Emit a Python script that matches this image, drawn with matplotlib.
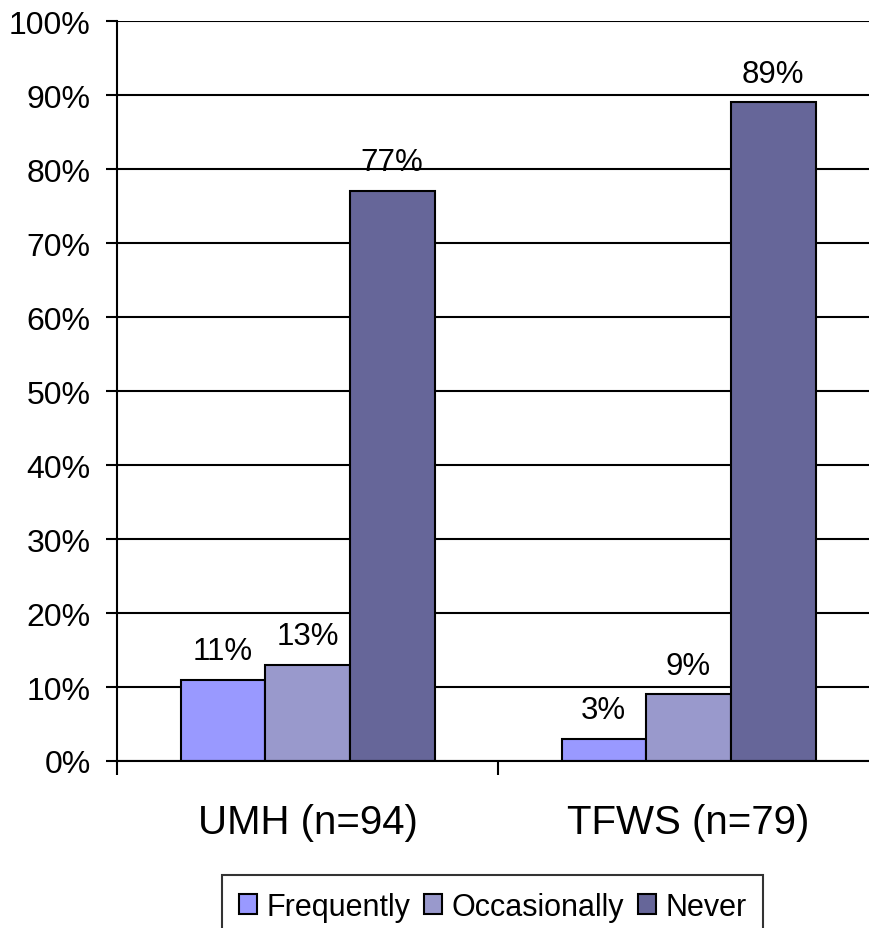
import numpy as np
import matplotlib.pyplot as plt

plt.rcParams['font.family'] = ['Liberation Sans', 'DejaVu Sans']

groups = ["UMH (n=94)", "TFWS (n=79)"]
series = ["Frequently", "Occasionally", "Never"]
frequently = [11, 3]
occasionally = [13, 9]
never = [77, 89]
colors = ["#9999FF", "#9999CC", "#666699"]

W, H = 869, 929
fig = plt.figure(figsize=(W / 100, H / 100), dpi=100)
# axis runs a little past the right edge of the figure
ax = fig.add_axes([117 / W, (H - 762) / H, (879 - 117) / W, (762 - 22) / H])

x = np.arange(len(groups))
w = 1 / 4.5  # gap width 150%
for i, (vals, c, name) in enumerate(zip([frequently, occasionally, never], colors, series)):
    bars = ax.bar(x + (i - 1) * w, vals, w, color=c, edgecolor="black",
                  linewidth=1.5, label=name, zorder=3)
    for b, v in zip(bars, vals):
        ax.annotate(f"{v}%", (b.get_x() + b.get_width() / 2, v),
                    xytext=(0, 10), textcoords="offset points",
                    ha="center", va="bottom", fontsize=22.5)

ax.set_xlim(-0.5, 1.5)
ax.set_ylim(0, 100)
ax.set_yticks(range(0, 101, 10))
ax.set_yticklabels([f"{t}%" for t in range(0, 101, 10)], fontsize=23)
ax.yaxis.grid(True, color="black", linewidth=1.5, zorder=0)
ax.tick_params(axis="y", length=8, width=1.5, pad=11)

# category ticks on the group boundaries, labels in the middle
ax.set_xticks([-0.5, 0.5, 1.5])
ax.set_xticklabels([])
ax.set_xticks(x, minor=True)
ax.set_xticklabels(groups, minor=True, fontsize=29)
ax.tick_params(axis="x", which="major", length=10, width=1.5)
ax.tick_params(axis="x", which="minor", length=0, pad=30)

for s in ["top", "right"]:
    ax.spines[s].set_visible(False)
ax.spines["left"].set_linewidth(1.5)
ax.spines["bottom"].set_linewidth(1.5)
ax.spines["left"].set_zorder(4)
ax.spines["bottom"].set_zorder(4)

leg = fig.legend(loc="upper left", bbox_to_anchor=(222 / W, (H - 876) / H),
                 ncol=3, fontsize=22, frameon=True, fancybox=False,
                 edgecolor="black", handlelength=0.6, handleheight=0.6,
                 handletextpad=0.3, columnspacing=0.45, borderpad=0.55,
                 borderaxespad=0)
leg.get_frame().set_linewidth(1.5)

fig.savefig("out.png", dpi=100)
